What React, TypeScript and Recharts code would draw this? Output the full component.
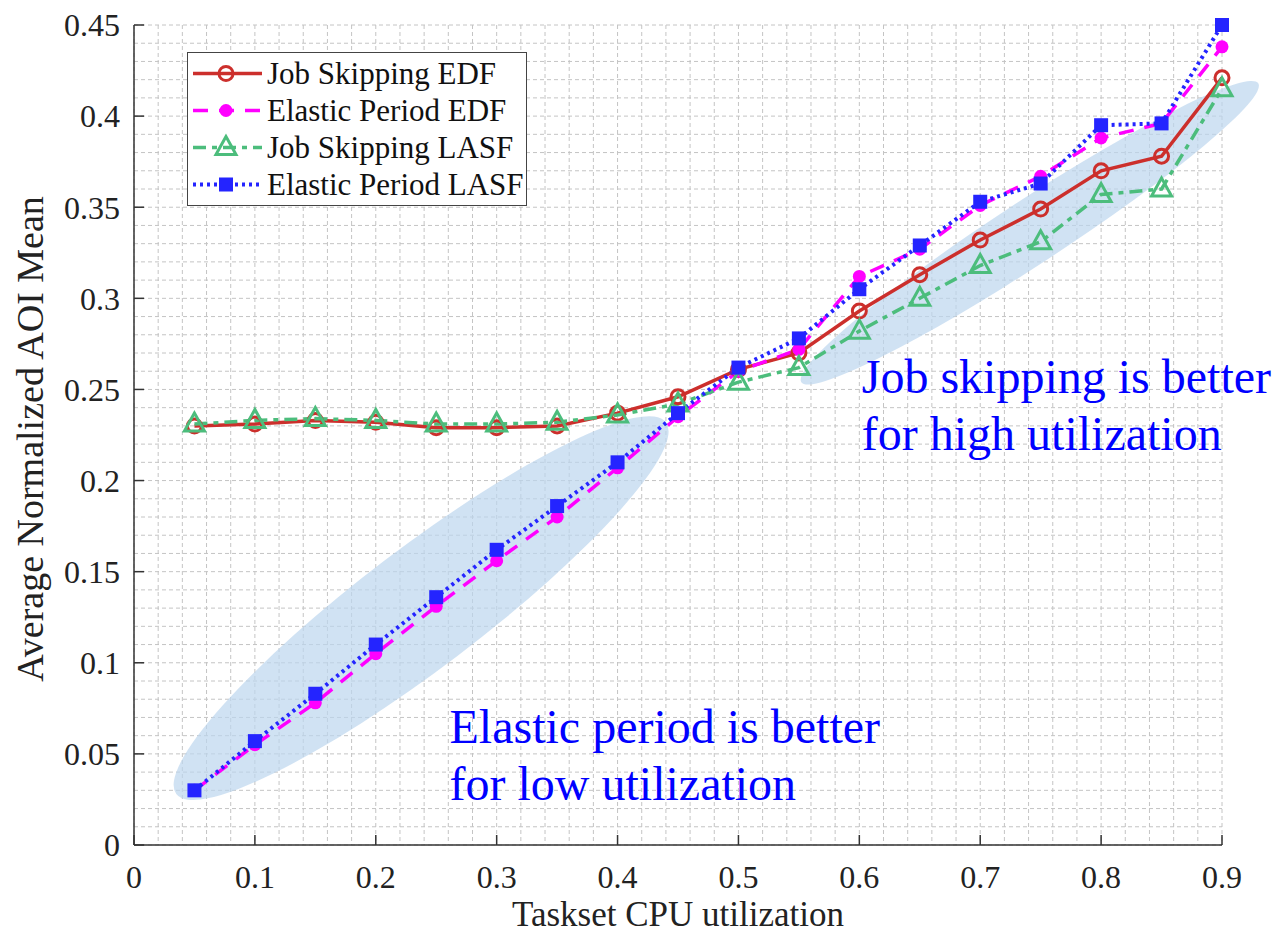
import React from "react";
import { CartesianGrid, Legend, Line, LineChart, ReferenceArea, ReferenceDot, XAxis, YAxis } from "recharts";

const UTILIZATION = [0.05, 0.1, 0.15, 0.2, 0.25, 0.3, 0.35, 0.4, 0.45, 0.5, 0.55, 0.6, 0.65, 0.7, 0.75, 0.8, 0.85, 0.9];

const JOB_SKIPPING_EDF = [0.23, 0.231, 0.233, 0.232, 0.229, 0.229, 0.23, 0.237, 0.246, 0.261, 0.27, 0.293, 0.313, 0.332, 0.349, 0.37, 0.378, 0.421];
const ELASTIC_PERIOD_EDF = [0.03, 0.055, 0.078, 0.105, 0.131, 0.156, 0.18, 0.207, 0.235, 0.26, 0.272, 0.312, 0.327, 0.351, 0.367, 0.388, 0.396, 0.438];
const JOB_SKIPPING_LASF = [0.231, 0.233, 0.234, 0.233, 0.231, 0.231, 0.232, 0.236, 0.242, 0.254, 0.262, 0.282, 0.3, 0.318, 0.331, 0.357, 0.36, 0.415];
const ELASTIC_PERIOD_LASF = [0.03, 0.057, 0.083, 0.11, 0.136, 0.162, 0.186, 0.21, 0.237, 0.262, 0.278, 0.305, 0.329, 0.353, 0.363, 0.395, 0.396, 0.45];

const X_TICKS = [0, 0.1, 0.2, 0.3, 0.4, 0.5, 0.6, 0.7, 0.8, 0.9];
const Y_TICKS = [0, 0.05, 0.1, 0.15, 0.2, 0.25, 0.3, 0.35, 0.4, 0.45];

// minor grid, MATLAB style: every 0.02 on x, every 0.01 on y
const MINOR_X = Array.from({ length: 46 }, (_, i) => +(i * 0.02).toFixed(2));
const MINOR_Y = Array.from({ length: 46 }, (_, i) => +(i * 0.01).toFixed(2));

const FONT = "'Liberation Serif', 'Times New Roman', serif";

const data = UTILIZATION.map((u, i) => ({
  u,
  jsEdf: JOB_SKIPPING_EDF[i],
  epEdf: ELASTIC_PERIOD_EDF[i],
  jsLasf: JOB_SKIPPING_LASF[i],
  epLasf: ELASTIC_PERIOD_LASF[i],
}));

type Marker = "circle" | "dot" | "triangle" | "square";

const SERIES: { key: string; name: string; color: string; dash?: string; width: number; marker: Marker }[] = [
  { key: "jsEdf", name: "Job Skipping EDF", color: "#cc2f2c", width: 3.5, marker: "circle" },
  { key: "epEdf", name: "Elastic Period EDF", color: "#ff00ff", dash: "15 11", width: 3.5, marker: "dot" },
  { key: "jsLasf", name: "Job Skipping LASF", color: "#4cbd7c", dash: "13 6 5 6", width: 3.5, marker: "triangle" },
  { key: "epLasf", name: "Elastic Period LASF", color: "#2424ff", dash: "3 4", width: 4, marker: "square" },
];

// the two shaded regions, given by the data coords of their long-axis tips
const LOW_REGION = { x1: 0.035, y1: 0.028, x2: 0.44, y2: 0.232, halfWidth: 60 };
const HIGH_REGION = { x1: 0.552, y1: 0.254, x2: 0.93, y2: 0.418, halfWidth: 32 };

function drawMarker(marker: Marker, color: string, cx: number, cy: number, key?: string | number) {
  if (marker === "circle") return <circle key={key} cx={cx} cy={cy} r={7} fill="none" stroke={color} strokeWidth={3} />;
  if (marker === "dot") return <circle key={key} cx={cx} cy={cy} r={6.5} fill={color} stroke="none" />;
  if (marker === "triangle")
    return (
      <polygon
        key={key}
        points={`${cx},${cy - 11} ${cx - 10},${cy + 7} ${cx + 10},${cy + 7}`}
        fill="none"
        stroke={color}
        strokeWidth={3}
      />
    );
  return <rect key={key} x={cx - 7} y={cy - 7} width={14} height={14} fill={color} stroke="none" />;
}

function ellipseShape(halfWidth: number) {
  return (props: any) => {
    const { x, y, width, height } = props;
    const cx = x + width / 2;
    const cy = y + height / 2;
    const rx = Math.sqrt(width * width + height * height) / 2;
    const angle = (-Math.atan2(height, width) * 180) / Math.PI;
    return (
      <ellipse cx={cx} cy={cy} rx={rx} ry={halfWidth} fill="#bcd6ee" fillOpacity={0.7} transform={`rotate(${angle} ${cx} ${cy})`} />
    );
  };
}

function noteShape(lines: string[]) {
  return (props: any) => (
    <text x={props.cx} y={props.cy} fill="#0000ff" fontSize={48} fontFamily={FONT}>
      {lines.map((l, i) => (
        <tspan key={i} x={props.cx} dy={i === 0 ? 0 : 57}>
          {l}
        </tspan>
      ))}
    </text>
  );
}

function LegendBox() {
  return (
    <div
      style={{
        border: "1.5px solid #444",
        background: "#fff",
        padding: "2px 0",
        fontFamily: FONT,
        fontSize: 31,
        color: "#111",
        width: 340,
        boxSizing: "border-box",
      }}
    >
      {SERIES.map((s) => (
        <div key={s.key} style={{ display: "flex", alignItems: "center", height: 37 }}>
          <svg width={79} height={37} style={{ flex: "none" }}>
            <line x1={5} x2={74} y1={18.5} y2={18.5} stroke={s.color} strokeWidth={s.width} strokeDasharray={s.dash} />
            {drawMarker(s.marker, s.color, 38, 18.5)}
          </svg>
          <span style={{ whiteSpace: "nowrap", lineHeight: "37px" }}>{s.name}</span>
        </div>
      ))}
    </div>
  );
}

export default function App() {
  return (
    <div style={{ width: 1278, height: 936, background: "#fff" }}>
      <style>{"body{margin:0}"}</style>
      <LineChart width={1278} height={936} data={data} margin={{ top: 25, right: 56, bottom: 0, left: 0 }}>
        <CartesianGrid stroke="#c4c4c4" strokeDasharray="4 3" horizontalValues={MINOR_Y} verticalValues={MINOR_X} />
        <XAxis
          type="number"
          dataKey="u"
          domain={[0, 0.9]}
          ticks={X_TICKS}
          interval={0}
          height={91}
          tickSize={-10}
          tickMargin={30}
          axisLine={{ stroke: "#333", strokeWidth: 1.5 }}
          tickLine={{ stroke: "#333", strokeWidth: 1.5 }}
          tick={{ fill: "#222", fontSize: 32, fontFamily: FONT }}
          label={{
            content: ({ viewBox }: any) => (
              <text x={viewBox.x + viewBox.width / 2} y={viewBox.y + 81} textAnchor="middle" fill="#222" fontSize={35} fontFamily={FONT}>
                Taskset CPU utilization
              </text>
            ),
          }}
        />
        <YAxis
          type="number"
          domain={[0, 0.45]}
          ticks={Y_TICKS}
          interval={0}
          width={134}
          tickSize={-10}
          tickMargin={24}
          axisLine={{ stroke: "#333", strokeWidth: 1.5 }}
          tickLine={{ stroke: "#333", strokeWidth: 1.5 }}
          tick={{ fill: "#222", fontSize: 32, fontFamily: FONT }}
          label={{
            content: ({ viewBox }: any) => {
              const cx = viewBox.x + 43;
              const cy = viewBox.y + viewBox.height / 2 + 4;
              return (
                <text x={cx} y={cy} transform={`rotate(-90 ${cx} ${cy})`} textAnchor="middle" fill="#222" fontSize={38} fontFamily={FONT}>
                  Average Normalized AOI Mean
                </text>
              );
            },
          }}
        />
        <ReferenceArea {...LOW_REGION} ifOverflow="visible" shape={ellipseShape(LOW_REGION.halfWidth)} />
        <ReferenceArea {...HIGH_REGION} ifOverflow="visible" shape={ellipseShape(HIGH_REGION.halfWidth)} />
        {SERIES.map((s) => (
          <Line
            key={s.key}
            dataKey={s.key}
            name={s.name}
            type="linear"
            stroke={s.color}
            strokeWidth={s.width}
            strokeDasharray={s.dash}
            isAnimationActive={false}
            dot={(p: any) => drawMarker(s.marker, s.color, p.cx, p.cy, `${s.key}-${p.index}`)}
            activeDot={false}
          />
        ))}
        <ReferenceDot x={0.602} y={0.248} r={0} ifOverflow="visible" shape={noteShape(["Job skipping is better", "for high utilization"])} />
        <ReferenceDot x={0.261} y={0.056} r={0} ifOverflow="visible" shape={noteShape(["Elastic period is better", "for low utilization"])} />
        <Legend
          layout="vertical"
          align="center"
          verticalAlign="middle"
          wrapperStyle={{ left: 187, top: 52, width: 340, height: 154 }}
          content={() => <LegendBox />}
        />
      </LineChart>
    </div>
  );
}
